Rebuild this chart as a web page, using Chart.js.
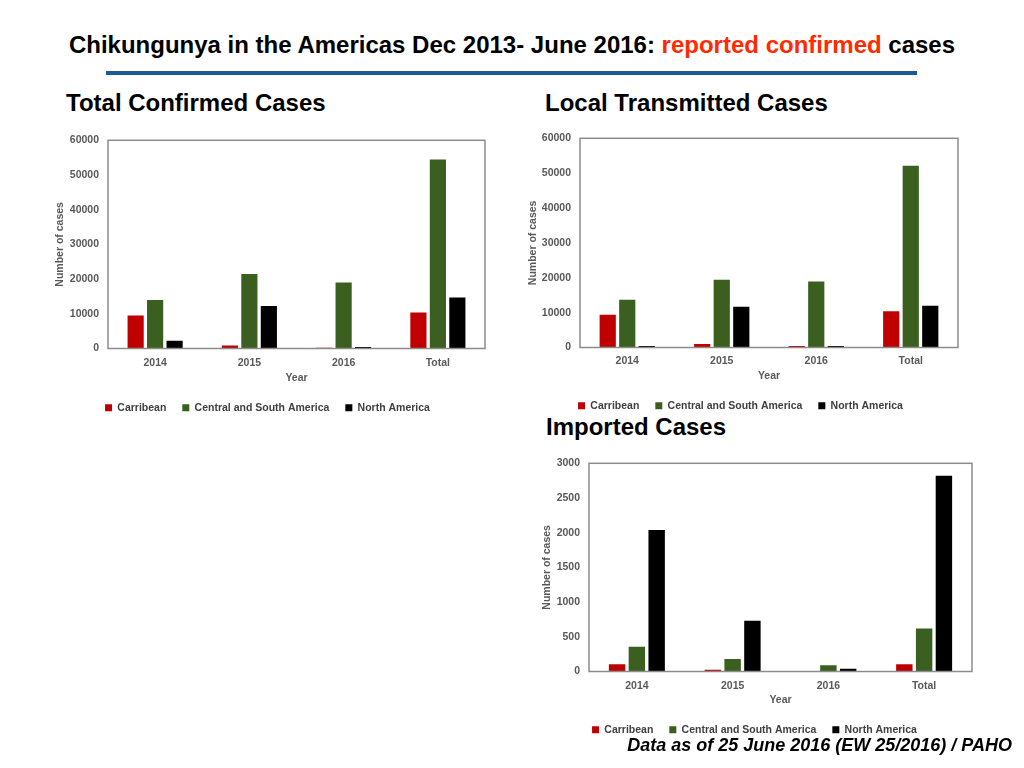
<!DOCTYPE html>
<html>
<head>
<meta charset="utf-8">
<script src="https://cdn.jsdelivr.net/npm/chart.js@4"></script>
<style>
  body { margin: 0; width: 1024px; height: 768px; background: #fff; position: relative; overflow: hidden; font-family: "Liberation Sans", Arial, sans-serif; }
  .title { position: absolute; left: 0; width: 1024px; top: 31px; text-align: center; font-weight: bold; font-size: 24px; color: #000; }
  .title span { color: #FF2A00; }
  .rule { position: absolute; left: 106px; top: 71px; width: 811px; height: 4px; background: #1B5A96; }
  .sub { position: absolute; font-weight: bold; font-size: 24px; color: #000; }
  .box { position: absolute; }
  .foot { position: absolute; right: 12px; top: 735px; font-weight: bold; font-style: italic; font-size: 18px; color: #000; }
</style>
</head>
<body>
<div class="title">Chikungunya in the Americas Dec 2013- June 2016: <span>reported confirmed</span> cases</div>
<div class="rule"></div>
<div class="sub" style="left:66px; top:89px;">Total Confirmed Cases</div>
<div class="sub" style="left:545px; top:89px;">Local Transmitted Cases</div>
<div class="sub" style="left:546px; top:413px;">Imported Cases</div>

<div class="box" style="left:50px; top:125px;"><canvas id="chartTotal" width="450" height="298"></canvas></div>
<div class="box" style="left:523px; top:123px;"><canvas id="chartLocal" width="450" height="298"></canvas></div>
<div class="box" style="left:537px; top:448px;"><canvas id="chartImported" width="450" height="297"></canvas></div>

<div class="foot">Data as of 25 June 2016 (EW 25/2016) / PAHO</div>

<script>
// categories and series
var years = ["2014", "2015", "2016", "Total"];
var regions = ["Carribean", "Central and South America", "North America"];

// total confirmed cases
var totalCarribean = [9500, 900, 200, 10400];
var totalCentralSouth = [14000, 21500, 19000, 54500];
var totalNorth = [2200, 12250, 400, 14700];

// local transmitted cases
var localCarribean = [9400, 1000, 400, 10400];
var localCentralSouth = [13700, 19400, 18900, 52100];
var localNorth = [400, 11700, 400, 12000];

// imported cases
var importedCarribean = [105, 25, 0, 105];
var importedCentralSouth = [355, 180, 90, 620];
var importedNorth = [2040, 730, 40, 2820];

var colors = ["#C00000", "#3A5F1F", "#000000"];
var gray = "#595959";

//draws the grey frame round the plot area
var framePlugin = {
  id: "frame",
  afterDraw: function(chart) {
    var a = chart.chartArea;
    var ctx = chart.ctx;
    ctx.save();
    ctx.strokeStyle = "#8C8C8C";
    ctx.lineWidth = 1.5;
    ctx.strokeRect(a.left, a.top, a.right - a.left, a.bottom - a.top);
    ctx.restore();
  }
};

function axisFont() {
  return { family: "Liberation Sans", size: 10.5, weight: "bold" };
}

// yWidth / xHeight fix the size of the axis boxes so the plot area lands where the slide has it
function makeChart(id, series, yMax, yStep, yWidth, xHeight, tickPad) {
  var datasets = regions.map(function(name, i) {
    return {
      label: name,
      data: series[i],
      backgroundColor: colors[i],
      borderWidth: 0,
      categoryPercentage: 0.62,
      barPercentage: 0.83
    };
  });

  return new Chart(document.getElementById(id), {
    type: "bar",
    data: { labels: years, datasets: datasets },
    plugins: [framePlugin],
    options: {
      responsive: false,
      animation: false,
      layout: { padding: { top: 0, right: 15, left: 0, bottom: 0 } },
      plugins: {
        tooltip: { enabled: false },
        legend: {
          position: "bottom",
          labels: {
            boxWidth: 7,
            boxHeight: 7,
            padding: 16,
            color: "#404040",
            font: axisFont()
          }
        }
      },
      scales: {
        x: {
          grid: { display: false, drawTicks: false },
          border: { display: false },
          ticks: { color: gray, padding: tickPad, font: axisFont() },
          title: {
            display: true,
            text: "Year",
            color: gray,
            padding: { top: 0, bottom: 2 },
            font: axisFont()
          },
          afterFit: function(scale) { scale.height = xHeight; }
        },
        y: {
          min: 0,
          max: yMax,
          grid: { display: false, drawTicks: false },
          border: { display: false },
          ticks: {
            stepSize: yStep,
            color: gray,
            padding: 9,
            font: axisFont(),
            callback: function(v) { return String(v); }
          },
          title: {
            display: true,
            text: "Number of cases",
            color: gray,
            padding: { top: 4, bottom: 0 },
            font: axisFont()
          },
          afterFit: function(scale) { scale.width = yWidth; }
        }
      }
    }
  });
}

makeChart("chartTotal", [totalCarribean, totalCentralSouth, totalNorth], 60000, 10000, 58, 38, 8);
makeChart("chartLocal", [localCarribean, localCentralSouth, localNorth], 60000, 10000, 57, 37, 7);
makeChart("chartImported", [importedCarribean, importedCentralSouth, importedNorth], 3000, 500, 52, 37, 8);
</script>
</body>
</html>
